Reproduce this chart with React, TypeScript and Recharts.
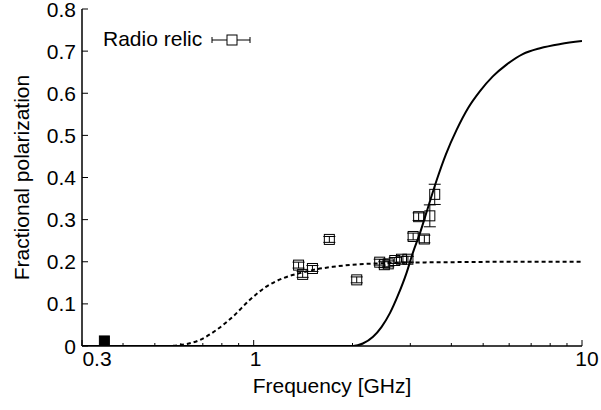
import React from "react";
import { ComposedChart, Line, Scatter, ErrorBar, XAxis, YAxis } from "recharts";

const FONT = "'Liberation Sans', Arial, Helvetica, sans-serif";

// axis ticks
const freqTicks = [0.3, 0.4, 0.5, 0.6, 0.7, 0.8, 0.9, 1, 2, 3, 4, 5, 6, 7, 8, 9, 10];
const freqLabels = [0.3, 1, 10];
const polTicks = [0, 0.1, 0.2, 0.3, 0.4, 0.5, 0.6, 0.7, 0.8];

// radio relic measurements
const relicFreq = [1.37, 1.41, 1.51, 1.7, 2.06, 2.42, 2.5, 2.57, 2.69, 2.82, 2.95, 3.06, 3.18, 3.31, 3.44, 3.56];
const relicPol = [0.192, 0.17, 0.184, 0.253, 0.157, 0.199, 0.193, 0.195, 0.203, 0.206, 0.206, 0.26, 0.307, 0.254, 0.309, 0.36];
const relicErr = [0.007, 0.007, 0.007, 0.007, 0.007, 0.007, 0.007, 0.007, 0.007, 0.007, 0.007, 0.008, 0.009, 0.009, 0.026, 0.024];

// low-frequency point
const lowFreq = [0.351];
const lowPol = [0.012];

// model curves
const solidFreq = [0.3, 1.9, 2.01, 2.15, 2.31, 2.45, 2.6, 2.75, 2.92, 3.05, 3.21, 3.4, 3.61, 3.85, 4.15, 4.5, 4.89, 5.35, 5.89, 6.6, 7.45, 8.6, 10];
const solidPol = [0, 0, 0, 0.006, 0.022, 0.045, 0.078, 0.12, 0.173, 0.22, 0.268, 0.33, 0.394, 0.455, 0.513, 0.565, 0.605, 0.64, 0.668, 0.693, 0.707, 0.717, 0.724];

const dashFreq = [0.3, 0.55, 0.595, 0.684, 0.77, 0.865, 0.972, 1.093, 1.23, 1.38, 1.55, 1.745, 2.0, 2.37, 3, 4, 6, 10];
const dashPol = [0, 0, 0.002, 0.014, 0.038, 0.07, 0.109, 0.141, 0.161, 0.173, 0.182, 0.188, 0.193, 0.196, 0.198, 0.199, 0.2, 0.2];

const relic = relicFreq.map((f, i) => ({ f, p: relicPol[i], err: relicErr[i] }));
const low = lowFreq.map((f, i) => ({ f, p: lowPol[i] }));
const solid = solidFreq.map((f, i) => ({ f, p: solidPol[i] }));
const dashed = dashFreq.map((f, i) => ({ f, p: dashPol[i] }));

const labelShift: Record<number, number> = { 0.3: 15, 1: 2, 10: 5 };

const BottomTick = (props: any) => {
  const { x, y, payload } = props;
  const v = payload.value;
  const major = freqLabels.includes(v);
  const axisY = y - 5;
  return (
    <g>
      <line x1={x} x2={x} y1={axisY} y2={axisY - (major ? 6 : 3)} stroke="#000" strokeWidth={1} />
      {major && (
        <text x={x + (labelShift[v] || 0)} y={y} dy="0.72em" textAnchor="middle" fontSize={21} fontFamily={FONT} fill="#000">
          {v}
        </text>
      )}
    </g>
  );
};

const TopTick = (props: any) => {
  const { x, y, payload } = props;
  const major = freqLabels.includes(payload.value);
  return <line x1={x} x2={x} y1={y} y2={y + (major ? 6 : 3)} stroke="#000" strokeWidth={1} />;
};

const LeftTick = (props: any) => {
  const { x, y, payload } = props;
  return (
    <g>
      <line x1={x + 6} x2={x + 12} y1={y} y2={y} stroke="#000" strokeWidth={1} />
      <text x={x} y={y} dy="0.36em" textAnchor="end" fontSize={21} fontFamily={FONT} fill="#000">
        {payload.value}
      </text>
    </g>
  );
};

const RightTick = (props: any) => {
  const { x, y } = props;
  return <line x1={x} x2={x - 6} y1={y} y2={y} stroke="#000" strokeWidth={1} />;
};

const OpenSquare = (props: any) => {
  const { cx, cy } = props;
  return <rect x={cx - 5} y={cy - 5} width={10} height={10} fill="none" stroke="#000" strokeWidth={1} />;
};

const FilledSquare = (props: any) => {
  const { cx, cy } = props;
  return <rect x={cx - 5} y={cy - 5} width={10} height={10} fill="#000" stroke="#000" strokeWidth={1} />;
};

const RelicLegend = () => (
  <svg width={170} height={30} style={{ position: "absolute", left: 100, top: 25 }}>
    <text x={3} y={21} fontSize={21} fontFamily={FONT} fill="#000">Radio relic</text>
    <line x1={112} x2={150} y1={15} y2={15} stroke="#000" strokeWidth={1} />
    <line x1={112} x2={112} y1={12} y2={18} stroke="#000" strokeWidth={1} />
    <line x1={150} x2={150} y1={12} y2={18} stroke="#000" strokeWidth={1} />
    <rect x={127} y={10} width={10} height={10} fill="#fff" stroke="#000" strokeWidth={1} />
  </svg>
);

const axisStroke = { stroke: "#000", strokeWidth: 1.5 };

export default function App() {
  return (
    <div style={{ position: "absolute", left: 0, top: 0, width: 601, height: 410, background: "#fff" }}>
      <ComposedChart width={601} height={410} margin={{ top: 9, right: 19, bottom: 0, left: 0 }}>
        <XAxis
          xAxisId="b"
          dataKey="f"
          type="number"
          scale="log"
          domain={[0.3, 10]}
          allowDataOverflow
          ticks={freqTicks}
          interval={0}
          height={64}
          tickSize={0}
          tickMargin={5}
          axisLine={axisStroke}
          tickLine={false}
          tick={<BottomTick />}
          label={{ value: "Frequency [GHz]", position: "insideBottom", offset: 17, fontSize: 21, fontFamily: FONT, fill: "#000" }}
        />
        <XAxis
          xAxisId="t"
          orientation="top"
          type="number"
          scale="log"
          domain={[0.3, 10]}
          allowDataOverflow
          ticks={freqTicks}
          interval={0}
          height={0}
          tickSize={0}
          tickMargin={0}
          axisLine={axisStroke}
          tickLine={false}
          tick={<TopTick />}
        />
        <YAxis
          yAxisId="l"
          type="number"
          domain={[0, 0.8]}
          allowDataOverflow
          ticks={polTicks}
          interval={0}
          width={82}
          tickSize={0}
          tickMargin={6}
          axisLine={axisStroke}
          tickLine={false}
          tick={<LeftTick />}
          label={{ value: "Fractional polarization", angle: -90, position: "insideLeft", offset: 22, fontSize: 21, fontFamily: FONT, fill: "#000", style: { textAnchor: "middle" } }}
        />
        <YAxis
          yAxisId="r"
          orientation="right"
          type="number"
          domain={[0, 0.8]}
          allowDataOverflow
          ticks={polTicks}
          interval={0}
          width={0}
          tickSize={0}
          tickMargin={0}
          axisLine={axisStroke}
          tickLine={false}
          tick={<RightTick />}
        />
        <Line
          xAxisId="b" yAxisId="l" data={dashed} dataKey="p" type="monotone"
          stroke="#000" strokeWidth={2} strokeDasharray="4 3" dot={false}
          isAnimationActive={false}
        />
        <Line
          xAxisId="b" yAxisId="l" data={solid} dataKey="p" type="monotone"
          stroke="#000" strokeWidth={2} dot={false}
          isAnimationActive={false}
        />
        <Scatter
          xAxisId="b" yAxisId="l" data={relic} dataKey="p" name="Radio relic"
          shape={<OpenSquare />} isAnimationActive={false}
        >
          <ErrorBar dataKey="err" direction="y" width={6} stroke="#000" strokeWidth={1} />
        </Scatter>
        <Scatter
          xAxisId="b" yAxisId="l" data={low} dataKey="p"
          shape={<FilledSquare />} isAnimationActive={false}
        />
      </ComposedChart>
      <RelicLegend />
    </div>
  );
}
